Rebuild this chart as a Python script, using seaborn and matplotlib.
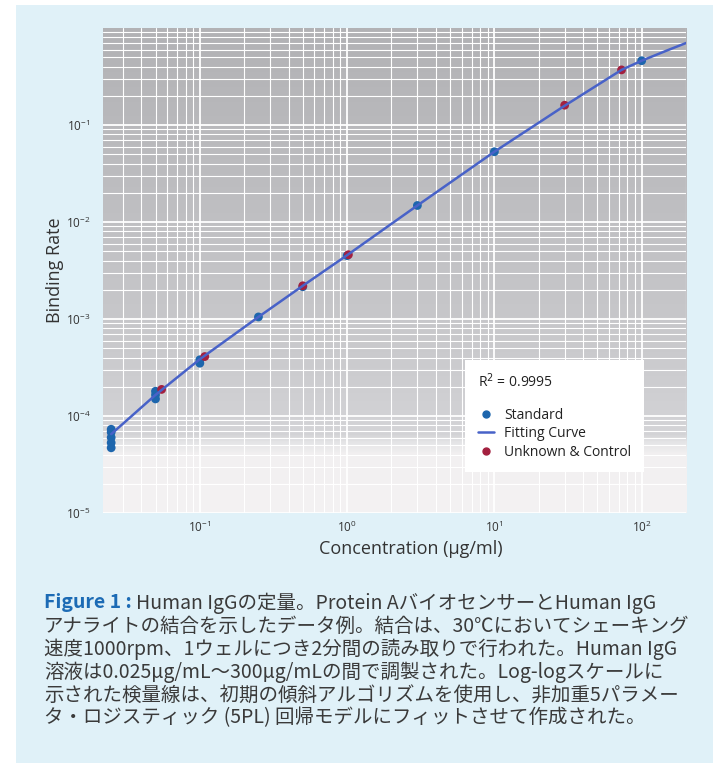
import numpy as np
import pandas as pd
import matplotlib
matplotlib.use("Agg")
import matplotlib.pyplot as plt
from matplotlib.colors import LinearSegmentedColormap
from matplotlib.lines import Line2D
from matplotlib.patches import Rectangle
import seaborn as sns

# standard samples (concentration ug/ml, binding rate)
std_conc = [0.025, 0.025, 0.025, 0.025, 0.025, 0.05, 0.05, 0.05, 0.1, 0.1,
            0.25, 0.5, 1.0, 3.0, 10.0, 100.0]
std_rate = [4.7e-5, 5.3e-5, 6.0e-5, 6.8e-5, 7.3e-5, 1.5e-4, 1.65e-4, 1.8e-4,
            3.5e-4, 3.8e-4, 1.05e-3, 2.15e-3, 4.5e-3, 0.0148, 0.053, 0.46]

# unknown & control samples
unk_conc = [0.055, 0.108, 0.5, 1.02, 30.0, 73.0]
unk_rate = [1.88e-4, 4.1e-4, 2.2e-3, 4.6e-3, 0.16, 0.37]

# 5PL fitting curve
fit_conc = [0.025, 0.05, 0.1, 0.25, 0.5, 1.0, 3.0, 10.0, 30.0, 73.0, 100.0, 150.0, 200.0]
fit_rate = [6.5e-5, 1.65e-4, 3.85e-4, 1.05e-3, 2.2e-3, 4.55e-3, 0.0148, 0.053,
            0.158, 0.37, 0.46, 0.59, 0.70]

r2_text = "R$^2$ = 0.9995"

caption_head = "Figure 1 : "
caption_lines = [
    "Human IgGの定量。Protein AバイオセンサーとHuman IgG",
    "アナライトの結合を示したデータ例。結合は、30℃においてシェーキング",
    "速度1000rpm、1ウェルにつき2分間の読み取りで行われた。Human IgG",
    "溶液は0.025μg/mL～300μg/mLの間で調製された。Log-logスケールに",
    "示された検量線は、初期の傾斜アルゴリズムを使用し、非加重5パラメー",
    "タ・ロジスティック (5PL) 回帰モデルにフィットさせて作成された。",
]

std_df = pd.DataFrame({"conc": std_conc, "rate": std_rate})
unk_df = pd.DataFrame({"conc": unk_conc, "rate": unk_rate})
fit_df = pd.DataFrame({"conc": fit_conc, "rate": fit_rate})

sns.set_style("white")
plt.rcParams["font.family"] = ["Open Sans", "DejaVu Sans"]

W, H = 727, 779
fig = plt.figure(figsize=(W / 100, H / 100), dpi=100)
fig.patch.set_facecolor("white")

# light blue panel behind everything
fig.patches.append(Rectangle((16 / W, 1 - 763 / H), (713 - 16) / W, (763 - 5) / H,
                             transform=fig.transFigure, facecolor="#e0f1f8",
                             edgecolor="none", zorder=-5))

left, right, top, bottom = 103, 686, 28, 513
ax = fig.add_axes([left / W, 1 - bottom / H, (right - left) / W, (bottom - top) / H])
ax.set_facecolor("none")

# gray-to-white gradient background of the plot area
grad_cmap = LinearSegmentedColormap.from_list(
    "bg", [(0.0, "#f4f2f3"), (0.12, "#f2f0f1"), (0.145, "#e4e4e6"),
           (0.16, "#d4d4d7"), (0.35, "#c9c9cc"), (0.7, "#bcbcbf"), (1.0, "#b2b2b5")])
grad = np.linspace(0, 1, 256).reshape(-1, 1)
ax.imshow(grad, cmap=grad_cmap, aspect="auto", extent=[0, 1, 0, 1],
          transform=ax.transAxes, origin="lower", zorder=-2)

ax.set_xscale("log")
ax.set_yscale("log")
ax.set_xlim(0.022, 200)
ax.set_ylim(1e-5, 1)

ax.grid(which="major", color="white", linewidth=1.3)
ax.grid(which="minor", color="white", linewidth=0.8)
ax.set_axisbelow(True)
for s in ax.spines.values():
    s.set_visible(False)
ax.tick_params(which="both", length=0, labelsize=8.5, colors="#333333")
ax.tick_params(axis="x", pad=5)
ax.tick_params(axis="y", pad=9)
ax.set_yticks([1e-5, 1e-4, 1e-3, 1e-2, 1e-1])

std_color = "#1d66ad"
unk_color = "#a3203f"
fit_color = "#4862c8"

sns.scatterplot(data=std_df, x="conc", y="rate", ax=ax, color=std_color,
                s=40, edgecolor="none", zorder=3, legend=False)
sns.scatterplot(data=unk_df, x="conc", y="rate", ax=ax, color=unk_color,
                s=40, edgecolor="none", zorder=3, legend=False)
sns.lineplot(data=fit_df, x="conc", y="rate", ax=ax, color=fit_color,
             linewidth=1.8, zorder=4)

ax.set_xlabel("Concentration (µg/ml)", fontsize=13, color="#333333")
ax.set_ylabel("Binding Rate", fontsize=13, color="#333333")
ax.xaxis.set_label_coords((411 - left) / (right - left), -(540 - bottom) / (bottom - top))
ax.yaxis.set_label_coords(-(103 - 64) / (right - left), 0.5)

handles = [
    Line2D([], [], linestyle="none", marker="o", markersize=5, color=std_color),
    Line2D([], [], color=fit_color, linewidth=1.8),
    Line2D([], [], linestyle="none", marker="o", markersize=5, color=unk_color),
]
leg = ax.legend(handles, ["Standard", "Fitting Curve", "Unknown & Control"],
                title=r2_text, alignment="left", loc="upper left",
                bbox_to_anchor=((465 - left) / (right - left), 1 - (360 - top) / (bottom - top)),
                fontsize=10, title_fontsize=10, frameon=True, fancybox=False,
                framealpha=1, facecolor="white", edgecolor="none",
                handlelength=1.2, handletextpad=0.7, labelspacing=0.25,
                borderpad=0.9, borderaxespad=0)
leg.get_title().set_color("#222222")
for t in leg.get_texts():
    t.set_color("#222222")
leg._legend_box.sep = 12

# caption
cap_fam = ["Noto Sans CJK JP", "DejaVu Sans"]
x0 = 44 / W
y0 = 603
step = 23.0
head = fig.text(x0, 1 - y0 / H, caption_head, fontsize=14, color="#1c6bb5",
                fontweight="bold", family=cap_fam, va="center")
fig.canvas.draw()
bb = head.get_window_extent(renderer=fig.canvas.get_renderer())
head_w = bb.width / W
for i, line in enumerate(caption_lines):
    xx = x0 + head_w if i == 0 else x0
    fig.text(xx, 1 - (y0 + i * step) / H, line, fontsize=14, color="#3a3a3a",
             family=cap_fam, va="center")

fig.savefig("out.png", dpi=100)
